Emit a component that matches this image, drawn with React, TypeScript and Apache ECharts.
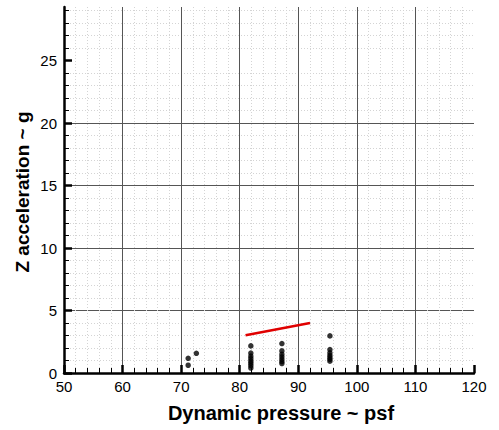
import React, { useEffect, useRef } from "react";
import * as echarts from "echarts";

const xTickValues = [50, 60, 70, 80, 90, 100, 110, 120];
const yTickValues = [0, 5, 10, 15, 20, 25];

const pointX = [
  71.2, 71.2, 72.6,
  81.9, 81.9, 81.9, 81.9, 81.9, 81.9, 81.9, 81.9,
  87.2, 87.2, 87.2, 87.2, 87.2, 87.2, 87.2,
  95.4, 95.4, 95.4, 95.4, 95.4, 95.4, 95.4,
];
const pointY = [
  0.62, 1.18, 1.58,
  2.17, 1.6, 1.35, 1.15, 0.95, 0.78, 0.6, 0.4,
  2.36, 1.77, 1.5, 1.3, 1.1, 0.92, 0.76,
  2.97, 1.88, 1.62, 1.42, 1.25, 1.1, 0.95,
];
const lineX = [81.0, 92.0];
const lineY = [3.02, 4.0];

export default function App() {
  const ref = useRef<HTMLDivElement>(null);
  useEffect(() => {
    if (!ref.current) return;
    const chart = echarts.init(ref.current, null, { renderer: "svg" });
    const font = "Liberation Sans, Arial, sans-serif";
    chart.setOption({
      animation: false,
      grid: { left: 64, right: 25, top: 7, bottom: 57, containLabel: false },
      xAxis: {
        type: "value",
        min: xTickValues[0],
        max: xTickValues[xTickValues.length - 1],
        interval: 10,
        axisLine: { show: true, lineStyle: { color: "#000", width: 2.5 } },
        axisTick: { show: true, inside: true, length: 8, lineStyle: { color: "#000", width: 2.5 } },
        minorTick: { show: true, splitNumber: 5, length: 5, lineStyle: { color: "#000", width: 1 } },
        axisLabel: { color: "#000", fontSize: 15, fontFamily: font, margin: 6 },
        splitLine: { show: true, showMaxLine: false, lineStyle: { color: "#555", width: 1 } },
        minorSplitLine: { show: true, lineStyle: { color: "#d4d4d4", width: 1, type: [1, 2] } },
      },
      yAxis: {
        type: "value",
        min: yTickValues[0],
        max: 29.3,
        interval: 5,
        axisLine: { show: true, lineStyle: { color: "#000", width: 2.5 } },
        axisTick: {
          show: true,
          inside: true,
          length: 8,
          customValues: yTickValues,
          lineStyle: { color: "#000", width: 2.5 },
        },
        minorTick: { show: true, splitNumber: 5, length: 5, lineStyle: { color: "#000", width: 1 } },
        axisLabel: { color: "#000", fontSize: 15, fontFamily: font, margin: 7, customValues: yTickValues },
        splitLine: { show: true, showMaxLine: false, lineStyle: { color: "#555", width: 1 } },
        minorSplitLine: { show: true, lineStyle: { color: "#d4d4d4", width: 1, type: [1, 2] } },
      },
      graphic: [
        {
          type: "text",
          x: 281,
          y: 413,
          style: {
            text: "Dynamic pressure ~ psf",
            font: `bold 20px ${font}`,
            fill: "#000",
            align: "center",
            verticalAlign: "middle",
          },
        },
        {
          type: "text",
          x: 22,
          y: 192,
          rotation: Math.PI / 2,
          style: {
            text: "Z acceleration ~ g",
            font: `bold 19px ${font}`,
            fill: "#000",
            align: "center",
            verticalAlign: "middle",
          },
        },
      ],
      series: [
        {
          type: "scatter",
          data: pointX.map((x, i) => [x, pointY[i]]),
          symbol: "circle",
          symbolSize: 5.5,
          itemStyle: { color: "#000" },
          z: 3,
        },
        {
          type: "line",
          data: lineX.map((x, i) => [x, lineY[i]]),
          showSymbol: false,
          lineStyle: { color: "#e00000", width: 2.5 },
          z: 3,
        },
      ],
    });
    return () => chart.dispose();
  }, []);
  return <div ref={ref} style={{ width: 499, height: 430, position: "absolute", left: 0, top: 0 }} />;
}
